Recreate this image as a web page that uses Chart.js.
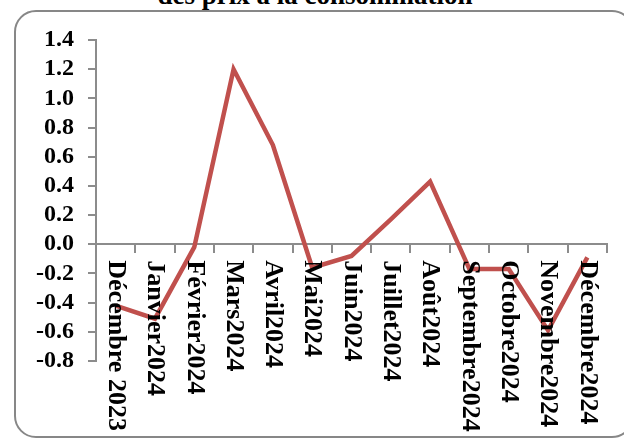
<!DOCTYPE html>
<html>
<head>
<meta charset="utf-8">
<script src="https://cdn.jsdelivr.net/npm/chart.js@4.4.1/dist/chart.umd.min.js"></script>
<style>
  html, body { margin: 0; padding: 0; background: #fff; overflow: hidden; }
  #wrap { position: relative; width: 624px; height: 441px; }
  #frame {
    position: absolute; left: 14px; top: 10px; width: 620px; height: 428px;
    border: 2px solid #878787; border-radius: 22px; box-sizing: border-box;
  }
  #title {
    position: absolute; left: 0; top: -20px; width: 630px; text-align: center;
    font: bold 27px "Liberation Serif", serif; color: #000; white-space: nowrap;
  }
  canvas { position: absolute; left: 0; top: 0; }
</style>
</head>
<body>
<div id="wrap">
  <div id="frame"></div>
  <div id="title">des prix à la consommation</div>
  <canvas id="chart" width="624" height="441"></canvas>
</div>
<script>
// Monthly change of the consumer price index (%)
const months = ['Décembre 2023', 'Janvier2024', 'Février2024', 'Mars2024', 'Avril2024', 'Mai2024',
  'Juin2024', 'Juillet2024', 'Août2024', 'Septembre2024', 'Octobre2024', 'Novembre2024', 'Décembre2024'];
const values = [-0.42, -0.51, -0.02, 1.2, 0.68, -0.16, -0.08, 0.17, 0.43, -0.17, -0.17, -0.59, -0.09];
const yMin = -0.8;
const yMax = 1.4;
const yStep = 0.2;

const axisGray = '#8c8c8c';
const labelFont = '"Liberation Serif", "Times New Roman", serif';

// Excel style category labels: rotated clockwise, hanging under the zero line
const hangingLabels = {
  id: 'hangingLabels',
  afterDatasetsDraw(chart) {
    const { ctx, scales: { x, y } } = chart;
    const y0 = y.getPixelForValue(0);
    ctx.save();
    ctx.fillStyle = '#000';
    ctx.font = 'bold 26px ' + labelFont;
    ctx.textAlign = 'left';
    ctx.textBaseline = 'middle';
    months.forEach((m, i) => {
      const px = x.getPixelForValue(i);
      ctx.save();
      ctx.translate(px, y0 + 16);
      ctx.rotate(Math.PI / 2);
      ctx.fillText(m, 0, 0);
      ctx.restore();
    });
    ctx.restore();
  }
};

const ctx = document.getElementById('chart').getContext('2d');
new Chart(ctx, {
  type: 'line',
  data: {
    labels: months,
    datasets: [{
      data: values,
      borderColor: '#c0504d',
      borderWidth: 4.5,
      pointRadius: 0,
      tension: 0,
      fill: false,
      borderJoinStyle: 'miter'
    }]
  },
  plugins: [hangingLabels],
  options: {
    responsive: false,
    animation: false,
    layout: { padding: { left: 0, top: 40, right: 17, bottom: 80 } },
    plugins: {
      legend: { display: false },
      tooltip: { enabled: false },
      title: { display: false }
    },
    scales: {
      x: {
        position: { y: 0 },
        offset: true,
        ticks: { display: false },
        grid: {
          offset: true,
          drawOnChartArea: false,
          drawTicks: true,
          tickLength: 8,
          color: axisGray,
          lineWidth: 2
        },
        border: { color: axisGray, width: 2 }
      },
      y: {
        min: yMin,
        max: yMax,
        afterFit(scale) { scale.width = 96; },
        ticks: {
          stepSize: yStep,
          autoSkip: false,
          color: '#000',
          padding: 14,
          font: { family: labelFont, size: 24, weight: 'bold' },
          callback: v => v.toFixed(1)
        },
        grid: {
          drawOnChartArea: false,
          tickLength: 8,
          color: axisGray,
          lineWidth: 2
        },
        border: { color: axisGray, width: 2 }
      }
    }
  }
});
</script>
</body>
</html>
